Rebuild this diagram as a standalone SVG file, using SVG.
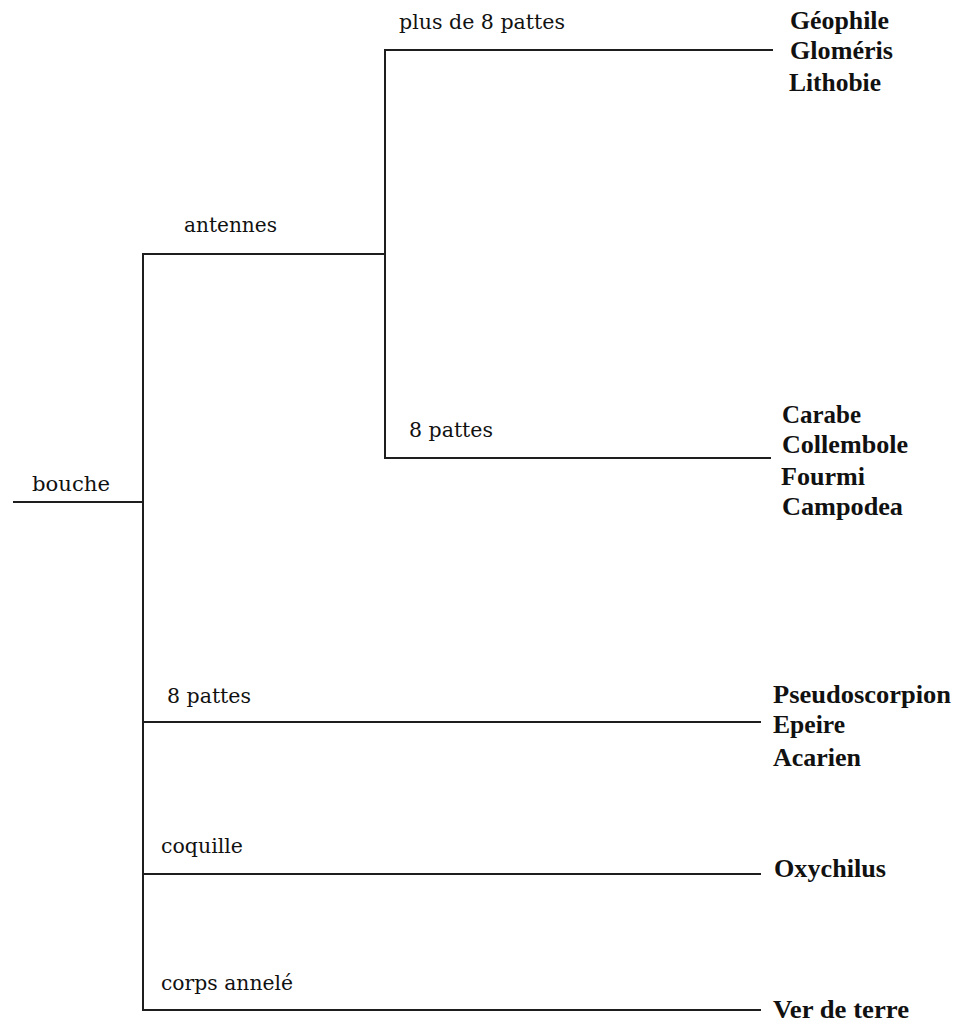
<svg xmlns="http://www.w3.org/2000/svg" width="959" height="1025" viewBox="0 0 959 1025">
<style>
.ln{stroke:#1e1e1e;stroke-width:2;fill:none;stroke-linecap:square}
.lab{font-family:"DejaVu Serif","Liberation Serif",serif;font-size:20px;fill:#111}
.tax{font-family:"Liberation Serif","Times New Roman",serif;font-size:25px;font-weight:bold;fill:#111}
</style>
<rect width="959" height="1025" fill="#fff"/>
<g id="connectors">
<path class="ln" d="M14 502H143"/>
<path class="ln" d="M143 254V1010"/>
<path class="ln" d="M143 254H385"/>
<path class="ln" d="M385 50V458"/>
<path class="ln" d="M385 50H772"/>
<path class="ln" d="M385 458H770"/>
<path class="ln" d="M143 722H760"/>
<path class="ln" d="M143 874H760"/>
<path class="ln" d="M143 1010H760"/>
</g>
<g id="node-bouche"><text class="lab" x="32" y="491" textLength="78" lengthAdjust="spacingAndGlyphs">bouche</text></g>
<g id="node-antennes"><text class="lab" x="184" y="232" textLength="93" lengthAdjust="spacingAndGlyphs">antennes</text></g>
<g id="node-plus8"><text class="lab" x="399" y="29" textLength="166" lengthAdjust="spacingAndGlyphs">plus de 8 pattes</text></g>
<g id="node-8pattes-a"><text class="lab" x="409" y="437" textLength="84" lengthAdjust="spacingAndGlyphs">8 pattes</text></g>
<g id="node-8pattes-b"><text class="lab" x="167" y="703" textLength="84" lengthAdjust="spacingAndGlyphs">8 pattes</text></g>
<g id="node-coquille"><text class="lab" x="161" y="853" textLength="82" lengthAdjust="spacingAndGlyphs">coquille</text></g>
<g id="node-corps"><text class="lab" x="161" y="990" textLength="132" lengthAdjust="spacingAndGlyphs">corps annelé</text></g>
<g id="node-myriapodes">
<text class="tax" x="790" y="29" textLength="99" lengthAdjust="spacingAndGlyphs">Géophile</text>
<text class="tax" x="790" y="59" textLength="103" lengthAdjust="spacingAndGlyphs">Gloméris</text>
<text class="tax" x="789" y="91" textLength="92" lengthAdjust="spacingAndGlyphs">Lithobie</text>
</g>
<g id="node-insectes">
<text class="tax" x="782" y="423" textLength="79" lengthAdjust="spacingAndGlyphs">Carabe</text>
<text class="tax" x="782" y="453" textLength="126" lengthAdjust="spacingAndGlyphs">Collembole</text>
<text class="tax" x="781" y="485" textLength="84" lengthAdjust="spacingAndGlyphs">Fourmi</text>
<text class="tax" x="782" y="515" textLength="121" lengthAdjust="spacingAndGlyphs">Campodea</text>
</g>
<g id="node-arachnides">
<text class="tax" x="773" y="703" textLength="178" lengthAdjust="spacingAndGlyphs">Pseudoscorpion</text>
<text class="tax" x="773" y="733" textLength="72" lengthAdjust="spacingAndGlyphs">Epeire</text>
<text class="tax" x="773" y="766" textLength="88" lengthAdjust="spacingAndGlyphs">Acarien</text>
</g>
<g id="node-oxychilus"><text class="tax" x="774" y="877" textLength="112" lengthAdjust="spacingAndGlyphs">Oxychilus</text></g>
<g id="node-ver"><text class="tax" x="773" y="1018" textLength="136" lengthAdjust="spacingAndGlyphs">Ver de terre</text></g>
</svg>
